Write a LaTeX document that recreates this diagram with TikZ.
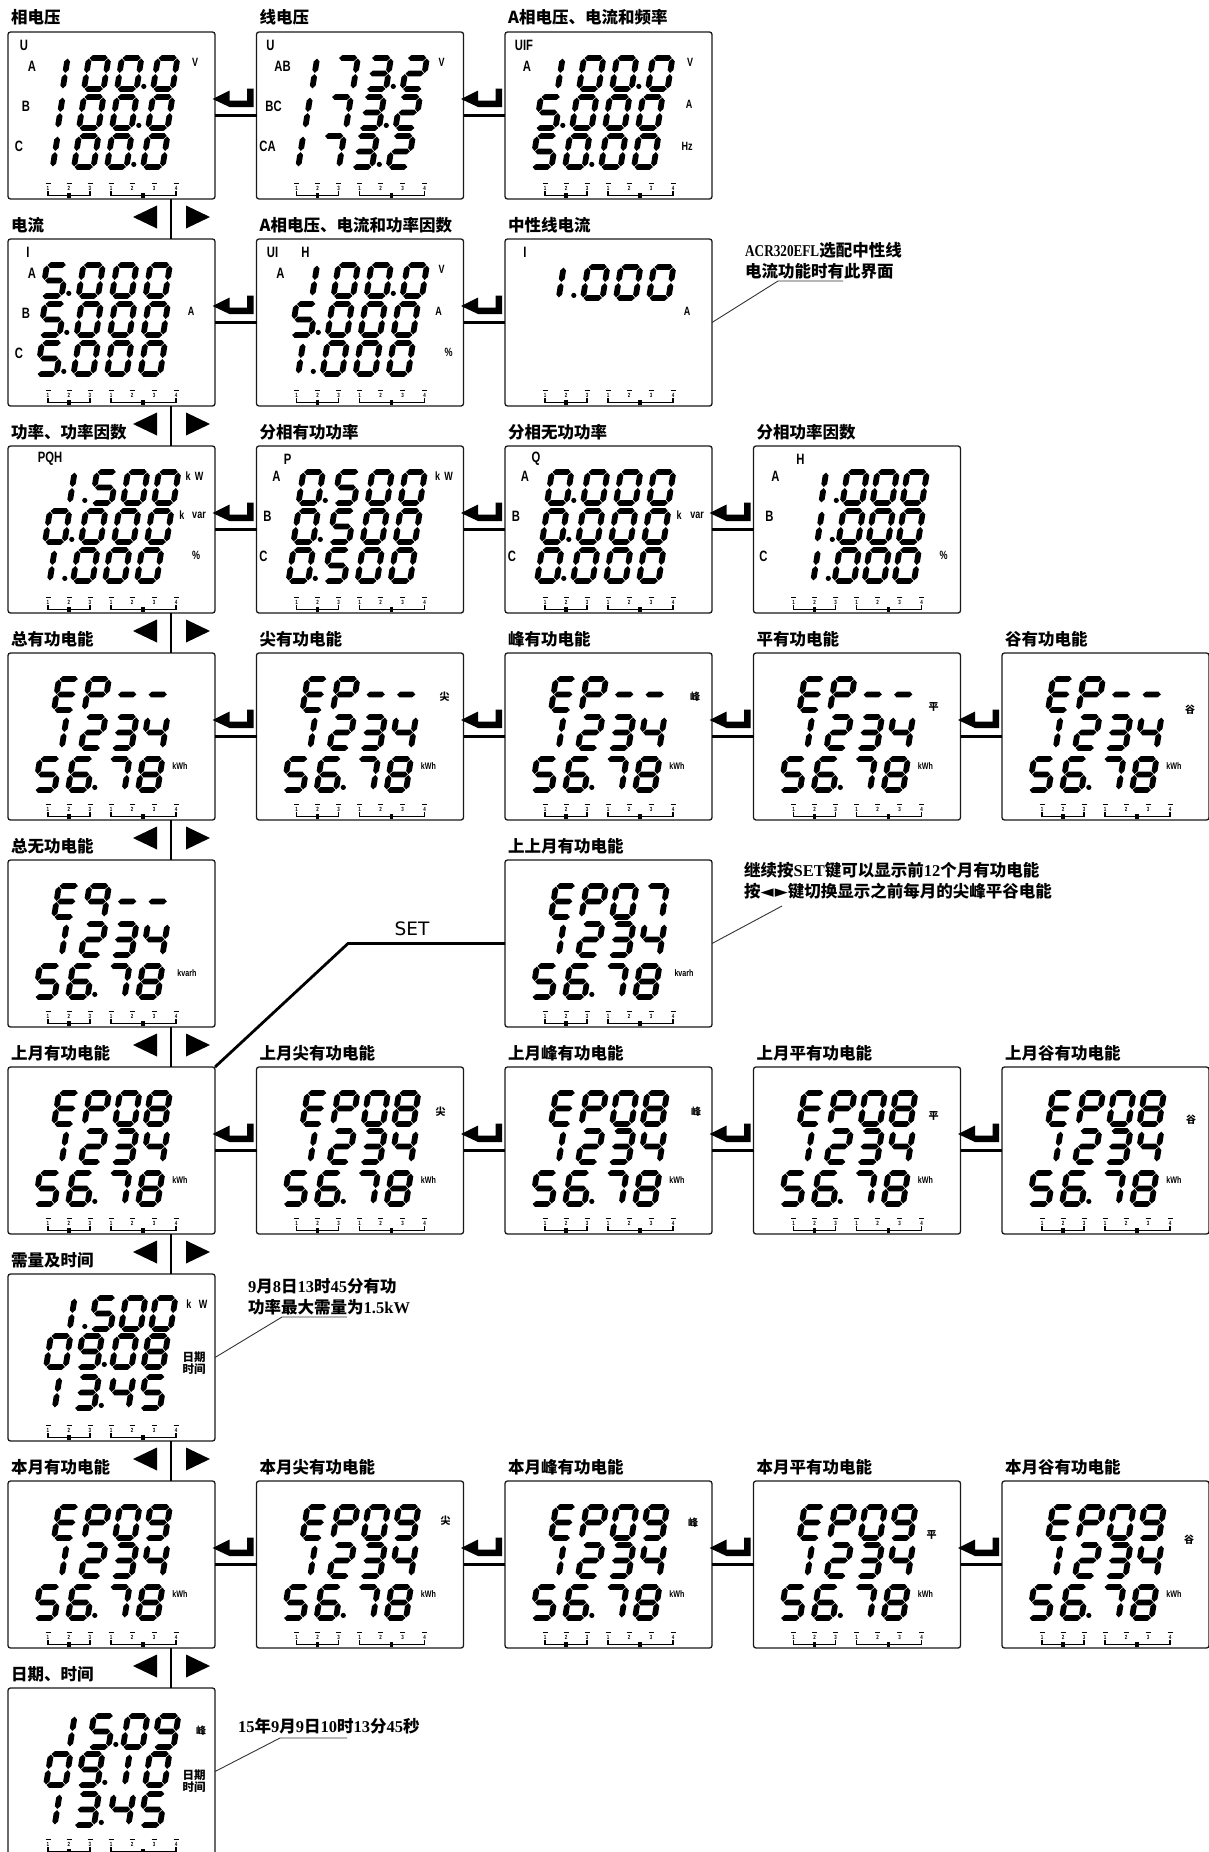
\documentclass[tikz,border=0pt]{standalone}
\usepackage{fontspec}
\usetikzlibrary{calc}
\setmainfont{Liberation Sans}
\newfontfamily\cjk{Noto Sans CJK SC}
\newfontfamily\lbf{Liberation Sans}[FakeStretch=0.75]
\newfontfamily\ser{Liberation Serif}
\newfontfamily\sern{Liberation Serif}[FakeStretch=0.8]
\newfontfamily\dvs{DejaVu Sans}

\newcount\nodecnt
\def\dW{19.5}\def\dH{31}\def\dP{33}\def\dD{3}\def\sk{0.16}\def\st{2.9}\def\gp{0.6}
\newcommand\HS[3]{\fill (#1,#3)--({#1+\st},{#3+\st})--({#2-\st},{#3+\st})--(#2,#3)--({#2-\st},{#3-\st})--({#1+\st},{#3-\st})--cycle;}
\newcommand\VS[3]{\fill (#1,#2)--({#1+\st},{#2+\st})--({#1+\st},{#3-\st})--(#1,#3)--({#1-\st},{#3-\st})--({#1-\st},{#2+\st})--cycle;}
\newcommand\segA{\HS{\gp}{\dW-\gp}{\dH}}
\newcommand\segB{\VS{\dW}{\dH/2+\gp}{\dH-\gp}}
\newcommand\segC{\VS{\dW}{\gp}{\dH/2-\gp}}
\newcommand\segD{\HS{\gp}{\dW-\gp}{0}}
\newcommand\segE{\VS{0}{\gp}{\dH/2-\gp}}
\newcommand\segF{\VS{0}{\dH/2+\gp}{\dH-\gp}}
\newcommand\segG{\HS{\gp}{\dW-\gp}{\dH/2}}
\expandafter\def\csname sg0\endcsname{\segA\segB\segC\segD\segE\segF}
\expandafter\def\csname sg1\endcsname{\VS{0.6*\dW}{\dH/2+\gp}{\dH-\gp}\VS{0.6*\dW}{\gp}{\dH/2-\gp}}
\expandafter\def\csname sg2\endcsname{\segA\segB\segD\segE\segG}
\expandafter\def\csname sg3\endcsname{\segA\segB\segC\segD\segG}
\expandafter\def\csname sg4\endcsname{\segB\segC\segF\segG}
\expandafter\def\csname sg5\endcsname{\segA\segC\segD\segF\segG}
\expandafter\def\csname sg6\endcsname{\segA\segC\segD\segE\segF\segG}
\expandafter\def\csname sg7\endcsname{\segA\segB\segC}
\expandafter\def\csname sg8\endcsname{\segA\segB\segC\segD\segE\segF\segG}
\expandafter\def\csname sg9\endcsname{\segA\segB\segC\segD\segF\segG}
\expandafter\def\csname sgE\endcsname{\segA\segD\segE\segF\segG}
\expandafter\def\csname sgP\endcsname{\segA\segB\segE\segF\segG}
\expandafter\def\csname sg-\endcsname{\segG}
\expandafter\def\csname sgq\endcsname{\segA\segB\segC\segF\segG}

\newcommand\lcd[4][33]{\def\dP{#1}\def\lcdX{#2}\def\lcdY{#3}\lcdloop#4\relax}
\def\lcdloop#1{\ifx#1\relax\else\lcdchar#1\expandafter\lcdloop\fi}
\def\lcdchar#1{%
  \if.#1%
    \fill ({\lcdX-\dP+\dW+\st+4.4},{\lcdY-2.6}) circle[radius=2.6pt];%
    \pgfmathsetmacro\lcdX{\lcdX+\dD}%
  \else
    \begin{scope}[shift={(\lcdX,\lcdY)},x=1pt,y=1pt,xslant=\sk]\csname sg#1\endcsname\end{scope}%
    \pgfmathsetmacro\lcdX{\lcdX+\dP}%
  \fi}

\tikzset{
  lcdbox/.style={draw=black!90, line width=1.3pt, rounded corners=2.5pt, minimum width=207pt, minimum height=167pt, inner sep=0pt, outer sep=0pt},
  ttl/.style={font={\cjk\bfseries\fontsize{16.5}{18}\selectfont}, inner sep=0pt, anchor=base west},
  lbl/.style={font={\lbf\bfseries\fontsize{15}{15}\selectfont}, inner sep=0pt},
  unit/.style={font={\lbf\bfseries\fontsize{12}{12}\selectfont}, inner sep=0pt},
  sunit/.style={font={\lbf\bfseries\fontsize{9.5}{9}\selectfont}, inner sep=0pt},
  cunit/.style={font={\cjk\bfseries\fontsize{10}{10}\selectfont}, inner sep=0pt},
  dunit/.style={font={\cjk\bfseries\fontsize{11.5}{11}\selectfont}, inner sep=0pt},
  tinyd/.style={font={\lbf\bfseries\fontsize{6}{6}\selectfont}, inner sep=0pt},
  conn/.style={line width=2.8pt, black},
  note/.style={font={\cjk\bfseries\fontsize{16.5}{18}\selectfont}, inner sep=0pt, anchor=base west},
  lead/.style={line width=0.9pt, black!80},
  settxt/.style={font={\dvs\fontsize{18.5}{19}\selectfont}, inner sep=0pt},
}

\newcommand\lb[4][lbl]{\global\advance\nodecnt by 1\relax\node[#1] (t\the\nodecnt) at (#2,#3) {#4};}
\newcommand\strip{%
  \foreach \xx/\dd in {40/1,61/2,82/3,103/1,124/2,146/3,168/4}{%
    \draw[line width=1pt] (\xx-2.5,151) -- (\xx+2.5,151);
    \global\advance\nodecnt by 1\relax
    \node[tinyd] (t\the\nodecnt) at (\xx,156.3) {\dd};
  }%
  \draw[line width=1.1pt] (40,159) -- (40,163.5) -- (82,163.5) -- (82,159);
  \draw[line width=1.1pt] (103,159) -- (103,163.5) -- (168,163.5) -- (168,159);
  \fill (59.2,161.3) rectangle (62.8,165.5);
  \fill (133.2,161.3) rectangle (136.8,165.5);
}
\newcommand\BOX[4]{%
  \pgfmathsetmacro\bxx{8+248.5*#3}\pgfmathsetmacro\byy{32+207*#2}%
  \node[lcdbox,anchor=north west] (#1) at (\bxx,\byy) {};
  \node[ttl] (#1t) at (\bxx+3,\byy-8) {#4};}
\newcommand\INB[1]{\begin{scope}[shift={(\bxx,\byy)}]\strip #1\end{scope}}
\newcommand\EPB[3][172]{\lcd[30.5]{46}{57}{#2}\lcd[31]{42}{95}{1234}\def\dD{4}\lcd[33]{27}{137}{56.78}\def\dD{3}\lb[sunit]{#1}{113}{#3}}
\newcommand\hlink[2]{\draw[conn] (#1.east) -- (#2.west);
  \fill ($(#2.west)+(-44,-16.5)$) -- ($(#2.west)+(-27,-25)$) -- ($(#2.west)+(-27,-15)$) -- ($(#2.west)+(-9.5,-15)$) -- ($(#2.west)+(-9.5,-27)$) -- ($(#2.west)+(-3,-27)$) -- ($(#2.west)+(-3,-8.5)$) -- ($(#2.west)+(-27,-8.5)$) -- cycle;}
\newcommand\vlink[2]{\draw[conn] ($(#1.south west)+(163,0)$) -- ($(#2.north west)+(163,0)$);
  \fill ($(#1.south west)+(125,18)$) -- ++(24,-11.5) -- ++(0,23) -- cycle;
  \fill ($(#1.south west)+(202,18)$) -- ++(-24,-11.5) -- ++(0,23) -- cycle;}

\begin{document}
\begin{tikzpicture}[x=1pt,y=-1pt]
\path[use as bounding box, fill=white] (0,0) rectangle (1209,1852);

% ---------- row 0
\BOX{b00}{0}{0}{相电压}
\INB{\lb{16}{13}{U}\lb{24}{34}{A}\lb{18}{74}{B}\lb{11}{114}{C}\lb[unit]{187}{30}{V}
 \lcd{43}{57}{100.0}\lcd{38}{96}{100.0}\lcd{33}{135}{100.0}}
\BOX{b01}{0}{1}{线电压}
\INB{\lb{14}{13}{U}\lb{26}{34}{AB}\lb{17}{74}{BC}\lb{11}{114}{CA}\lb[unit]{185}{30}{V}
 \lcd{44}{57}{173.2}\lcd{37}{96}{173.2}\lcd{30}{135}{173.2}}
\BOX{b02}{0}{2}{A相电压、电流和频率}
\INB{\lb{19}{13}{UIF}\lb{22}{34}{A}\lb[unit]{185}{30}{V}\lb[unit]{184}{72}{A}\lb[unit]{182}{114}{Hz}
 \lcd{41}{57}{100.0}\lcd{31}{96}{5.000}\lcd{27}{135}{50.00}}

% ---------- row 1
\BOX{b10}{1}{0}{电流}
\INB{\lb{20}{13}{I}\lb{24}{34}{A}\lb{18}{74}{B}\lb{11}{114}{C}\lb[unit]{183}{72}{A}
 \lcd[33.5]{34}{57}{5.000}\lcd[33.5]{32}{96}{5.000}\lcd[33.5]{29}{135}{5.000}}
\BOX{b11}{1}{1}{A相电压、电流和功率因数}
\INB{\lb{16}{13}{UI}\lb{49}{13}{H}\lb{24}{34}{A}\lb[unit]{185}{30}{V}\lb[unit]{182}{72}{A}\lb[unit]{192}{113}{\%}
 \lcd{44}{57}{100.0}\lcd{35}{96}{5.000}\lcd{30}{135}{1.000}}
\BOX{b12}{1}{2}{中性线电流}
\INB{\lb{20}{13}{I}\lb[unit]{182}{72}{A}
 \lcd{42}{59}{1.000}}

% ---------- row 2
\BOX{b20}{2}{0}{功率、功率因数}
\INB{\lb{42}{13}{PQH}\lb[unit]{180}{30}{k}\lb[unit]{191}{30}{W}\lb[unit]{174}{69}{k}\lb[unit]{191}{69}{var}\lb[unit]{188}{109}{\%}
 \lcd[31]{50}{57}{1.500}\lcd[33]{37}{96}{0.000}\lcd[32]{30}{135}{1.000}}
\BOX{b21}{2}{1}{分相有功功率}
\INB{\lb{31}{13}{P}\lb{20}{30}{A}\lb{11}{70}{B}\lb{7}{110}{C}\lb[unit]{181}{30}{k}\lb[unit]{192}{30}{W}
 \lcd{42}{57}{0.500}\lcd{37}{96}{0.500}\lcd{32}{135}{0.500}}
\BOX{b22}{2}{2}{分相无功功率}
\INB{\lb{31}{13}{Q}\lb{20}{30}{A}\lb{11}{70}{B}\lb{7}{110}{C}\lb[unit]{174}{69}{k}\lb[unit]{192}{69}{var}
 \lcd{42}{57}{0.000}\lcd{37}{96}{0.000}\lcd{32}{135}{0.000}}
\BOX{b23}{2}{3}{分相功率因数}
\INB{\lb{47}{13}{H}\lb{22}{30}{A}\lb{16}{70}{B}\lb{10}{110}{C}\lb[unit]{190}{109}{\%}
 \lcd[30]{56}{57}{1.000}\lcd[30]{52}{96}{1.000}\lcd[30]{48}{135}{1.000}}

% ---------- row 3
\BOX{b30}{3}{0}{总有功电能}
\INB{\EPB{EP--}{kWh}}
\BOX{b31}{3}{1}{尖有功电能}
\INB{\EPB{EP--}{kWh}\lb[cunit]{188}{44}{尖}}
\BOX{b32}{3}{2}{峰有功电能}
\INB{\EPB{EP--}{kWh}\lb[cunit]{190}{44}{峰}}
\BOX{b33}{3}{3}{平有功电能}
\INB{\EPB{EP--}{kWh}\lb[cunit]{180}{54}{平}}
\BOX{b34}{3}{4}{谷有功电能}
\INB{\EPB{EP--}{kWh}\lb[cunit]{188}{57}{谷}}

% ---------- row 4
\BOX{b40}{4}{0}{总无功电能}
\INB{\EPB[179]{Eq--}{kvarh}}
\BOX{b42}{4}{2}{上上月有功电能}
\INB{\EPB[179]{EP07}{kvarh}}

% ---------- row 5
\BOX{b50}{5}{0}{上月有功电能}
\INB{\EPB{EP08}{kWh}}
\BOX{b51}{5}{1}{上月尖有功电能}
\INB{\EPB{EP08}{kWh}\lb[cunit]{184}{45}{尖}}
\BOX{b52}{5}{2}{上月峰有功电能}
\INB{\EPB{EP08}{kWh}\lb[cunit]{191}{45}{峰}}
\BOX{b53}{5}{3}{上月平有功电能}
\INB{\EPB{EP08}{kWh}\lb[cunit]{180}{49}{平}}
\BOX{b54}{5}{4}{上月谷有功电能}
\INB{\EPB{EP08}{kWh}\lb[cunit]{189}{53}{谷}}

% ---------- row 6
\BOX{b60}{6}{0}{需量及时间}
\INB{\lb[unit]{181}{30}{k}\lb[unit]{195}{30}{W}\lb[dunit]{186}{83}{日期}\lb[dunit]{186}{95}{时间}
 \lcd[30]{50}{55}{1.500}\lcd[31.5]{38}{93}{09.08}\lcd[31.5]{35}{134}{13.45}}

% ---------- row 7
\BOX{b70}{7}{0}{本月有功电能}
\INB{\EPB{EP09}{kWh}}
\BOX{b71}{7}{1}{本月尖有功电能}
\INB{\EPB{EP09}{kWh}\lb[cunit]{189}{40}{尖}}
\BOX{b72}{7}{2}{本月峰有功电能}
\INB{\EPB{EP09}{kWh}\lb[cunit]{188}{42}{峰}}
\BOX{b73}{7}{3}{本月平有功电能}
\INB{\EPB{EP09}{kWh}\lb[cunit]{178}{54}{平}}
\BOX{b74}{7}{4}{本月谷有功电能}
\INB{\EPB{EP09}{kWh}\lb[cunit]{187}{59}{谷}}

% ---------- row 8
\BOX{b80}{8}{0}{日期、时间}
\INB{\lb[cunit]{193}{43}{峰}\lb[dunit]{186}{87}{日期}\lb[dunit]{186}{99}{时间}
 \lcd[31]{50}{59}{15.09}\lcd[32]{38}{97}{09.10}\lcd[31.5]{35}{137}{13.45}}

% ---------- connectors
\hlink{b00}{b01}\hlink{b01}{b02}
\hlink{b10}{b11}\hlink{b11}{b12}
\hlink{b20}{b21}\hlink{b21}{b22}\hlink{b22}{b23}
\hlink{b30}{b31}\hlink{b31}{b32}\hlink{b32}{b33}\hlink{b33}{b34}
\hlink{b50}{b51}\hlink{b51}{b52}\hlink{b52}{b53}\hlink{b53}{b54}
\hlink{b70}{b71}\hlink{b71}{b72}\hlink{b72}{b73}\hlink{b73}{b74}
\vlink{b00}{b10}\vlink{b10}{b20}\vlink{b20}{b30}\vlink{b30}{b40}
\vlink{b40}{b50}\vlink{b50}{b60}\vlink{b60}{b70}\vlink{b70}{b80}

% SET link
\coordinate (setk) at ($(348,0)!(b42.west)!(348,10)$);
\draw[conn] (b50.north east) -- (setk) -- (b42.west);
\node[settxt] (setl) at (412,929) {SET};

% ---------- notes
\node[note] (n1a) at (745,256) {{\sern ACR320EFL}选配中性线};
\node[note] (n1b) at (745,277) {电流功能时有此界面};
\coordinate (u1a) at (778,281); \coordinate (u1b) at (843,281);
\draw[lead] (b12.east) -- (u1a) -- (u1b);

\node[note] (n2a) at (744,876) {继续按{\ser SET}键可以显示前{\ser 12}个月有功电能};
\node[note] (n2b) at (744,897) {按{\dvs\fontsize{17}{17}\selectfont ◄\kern1pt►}键切换显示之前每月的尖峰平谷电能};
\coordinate (u2a) at (782,906);
\draw[lead] (b42.east) -- (u2a);

\node[note] (n3a) at (248,1292) {{\ser 9}月{\ser 8}日{\ser 13}时{\ser 45}分有功};
\node[note] (n3b) at (248,1313) {功率最大需量为{\ser 1.5kW}};
\coordinate (u3a) at (282,1317); \coordinate (u3b) at (347,1317);
\draw[lead] (b60.east) -- (u3a) -- (u3b);

\node[note] (n4a) at (238,1732) {{\ser 15}年{\ser 9}月{\ser 9}日{\ser 10}时{\ser 13}分{\ser 45}秒};
\coordinate (u4a) at (280,1738); \coordinate (u4b) at (347,1738);
\draw[lead] (b80.east) -- (u4a) -- (u4b);
\end{tikzpicture}
\end{document}
